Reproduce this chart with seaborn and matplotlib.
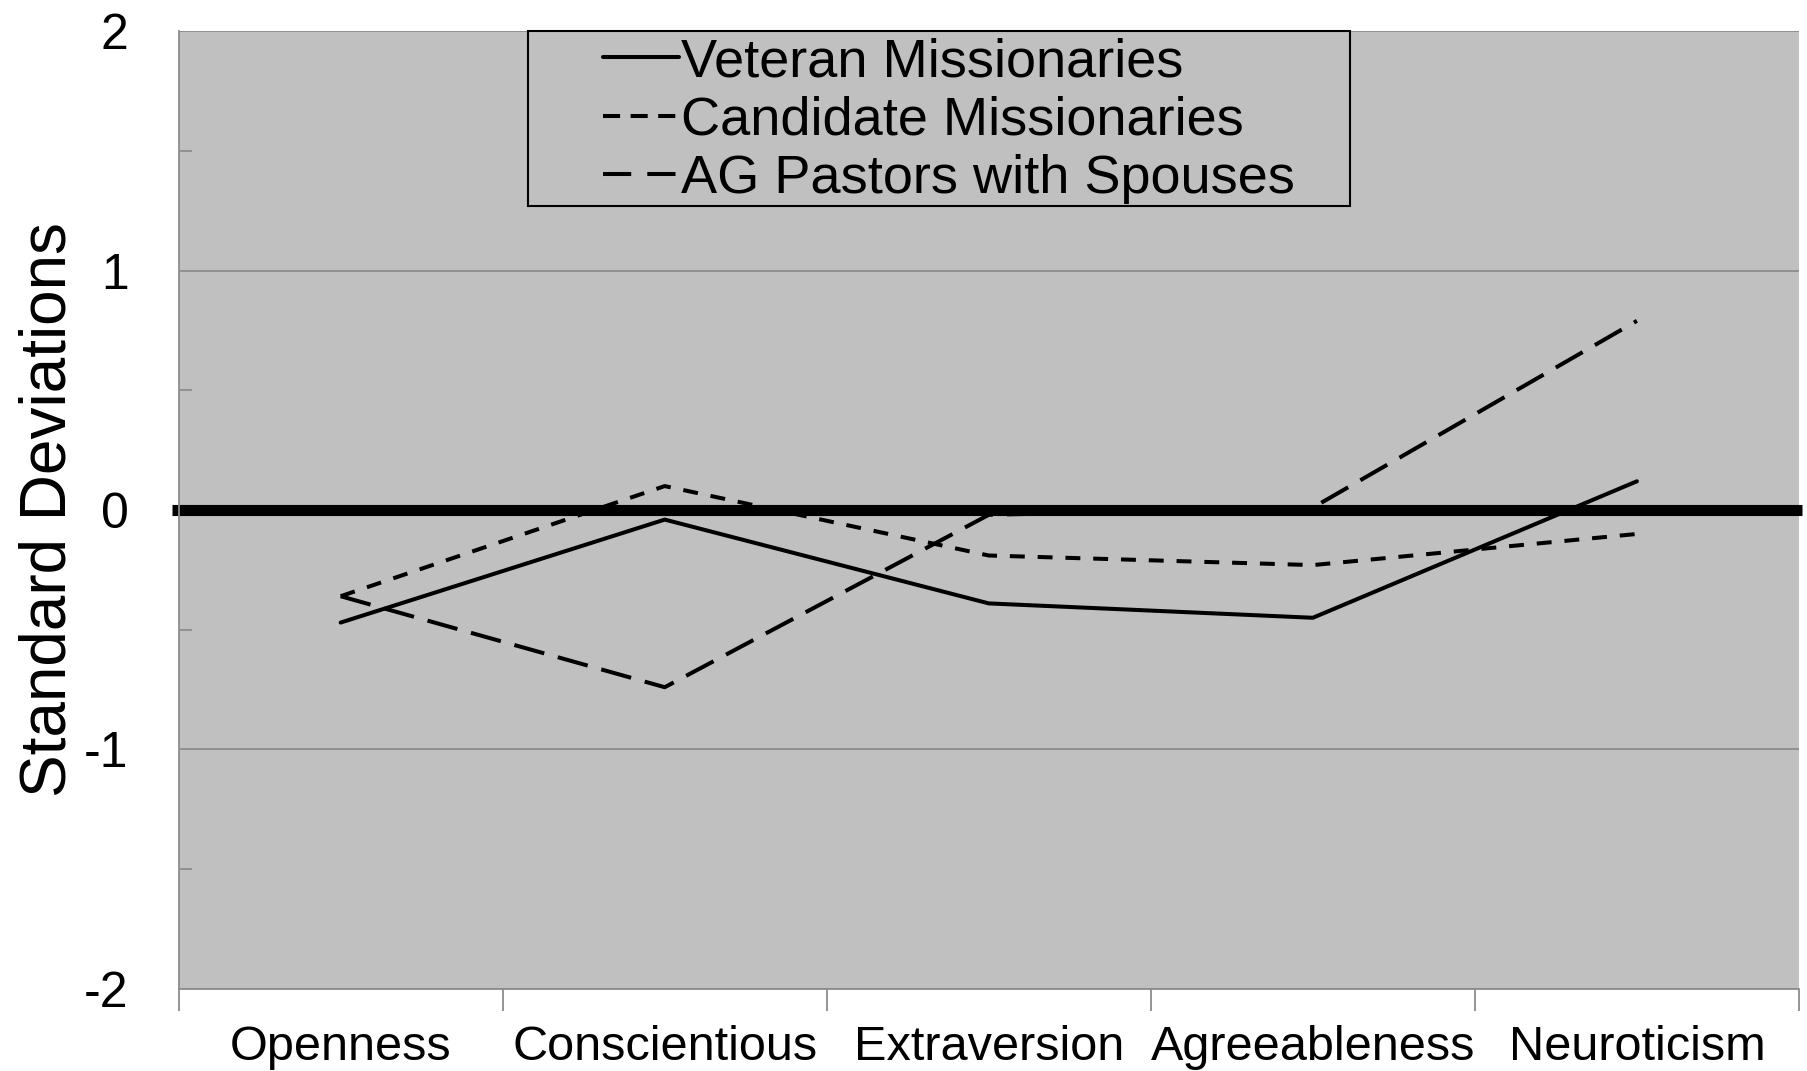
import matplotlib
matplotlib.use("Agg")
import matplotlib.pyplot as plt
import seaborn as sns
import pandas as pd
from matplotlib.ticker import FixedLocator, NullFormatter
from matplotlib.patches import Rectangle

categories = ["Openness", "Conscientious", "Extraversion", "Agreeableness", "Neuroticism"]
veteran = [-0.47, -0.04, -0.39, -0.45, 0.12]
candidate = [-0.36, 0.10, -0.19, -0.23, -0.10]
ag_pastors = [-0.36, -0.74, -0.02, 0.01, 0.79]
series_names = ["Veteran Missionaries", "Candidate Missionaries", "AG Pastors with Spouses"]
yticks = [-2, -1, 0, 1, 2]

rows = []
for name, vals in zip(series_names, [veteran, candidate, ag_pastors]):
    for i, (c, v) in enumerate(zip(categories, vals)):
        rows.append({"pos": i, "Trait": c, "Value": v, "Group": name})
df = pd.DataFrame(rows)

sns.set_theme(style="white")
plt.rcParams["font.family"] = ["Liberation Sans", "DejaVu Sans"]
plt.rcParams["text.color"] = "black"
plt.rcParams["axes.labelcolor"] = "black"
plt.rcParams["xtick.color"] = "black"
plt.rcParams["ytick.color"] = "black"

fig = plt.figure(figsize=(18.08, 10.71), dpi=100)
ax = fig.add_axes([0.0988, 0.0766, 0.8962, 0.8944])
ax.set_facecolor("#C0C0C0")

LW = 2.9
dashes = {
    "Veteran Missionaries": "",
    "Candidate Missionaries": (3.7, 3.2),
    "AG Pastors with Spouses": (7.7, 3.5),
}
sns.lineplot(data=df, x="pos", y="Value", hue="Group", style="Group",
             palette=["black"] * 3, dashes=dashes, hue_order=series_names,
             style_order=series_names, linewidth=LW, ax=ax, legend=True)

ax.axhline(0, color="black", lw=8.0, xmin=-0.004, xmax=1.002, clip_on=False,
           zorder=1.5, solid_capstyle="butt")

ax.set_xlim(-0.5, len(categories) - 0.5)
ax.set_ylim(-2, 2)
ax.set_yticks(yticks)
ax.set_yticklabels([str(t) for t in yticks], fontsize=36)
ax.yaxis.set_minor_locator(FixedLocator([-1.5, -0.5, 0.5, 1.5]))
ax.tick_params(axis="y", which="major", direction="out", length=16, width=1.3,
               color="#8C8C8C", labelcolor="black", pad=20)
ax.tick_params(axis="y", which="minor", direction="in", length=9, width=1.3,
               color="#8C8C8C", left=True)

ax.set_xticks(range(len(categories)))
ax.set_xticklabels(categories, fontsize=35)
ax.xaxis.set_minor_locator(FixedLocator([i - 0.5 for i in range(len(categories) + 1)]))
ax.xaxis.set_minor_formatter(NullFormatter())
ax.tick_params(axis="x", which="major", length=0, pad=26, labelcolor="black")
ax.tick_params(axis="x", which="minor", direction="out", length=16, width=1.3,
               color="#8C8C8C", bottom=True)

ax.grid(axis="y", which="major", color="#8C8C8C", lw=1.3)
ax.set_axisbelow(True)
for s in ["top", "right"]:
    ax.spines[s].set_visible(False)
for s in ["left", "bottom"]:
    ax.spines[s].set_color("#8C8C8C")
    ax.spines[s].set_linewidth(1.3)

ax.set_xlabel("")
ax.set_ylabel("Standard Deviations", fontsize=46, labelpad=4, color="black")

# legend box (drawn separately so its padding matches the reference)
ax.add_patch(Rectangle((0.2156, 0.817), 0.5073, 0.183, transform=ax.transAxes,
                       facecolor="#C0C0C0", edgecolor="black", lw=1.5,
                       zorder=4, clip_on=False))

handles, labels = ax.get_legend_handles_labels()
leg = ax.legend(handles, labels, loc="upper left", bbox_to_anchor=(0.262, 0.9937),
                fontsize=39, frameon=False, handlelength=1.4,
                handletextpad=0.04, borderpad=0.0, labelspacing=0.16,
                borderaxespad=0)
leg.set_zorder(5)
for t in leg.get_texts():
    t.set_color("black")
legend_dashes = [None, (4.25, 2.6), (7.0, 4.0)]
for line, d in zip(leg.get_lines(), legend_dashes):
    line.set_linewidth(LW)
    if d is not None:
        line.set_dashes(d)

fig.savefig("out.png", dpi=100, facecolor="white")
